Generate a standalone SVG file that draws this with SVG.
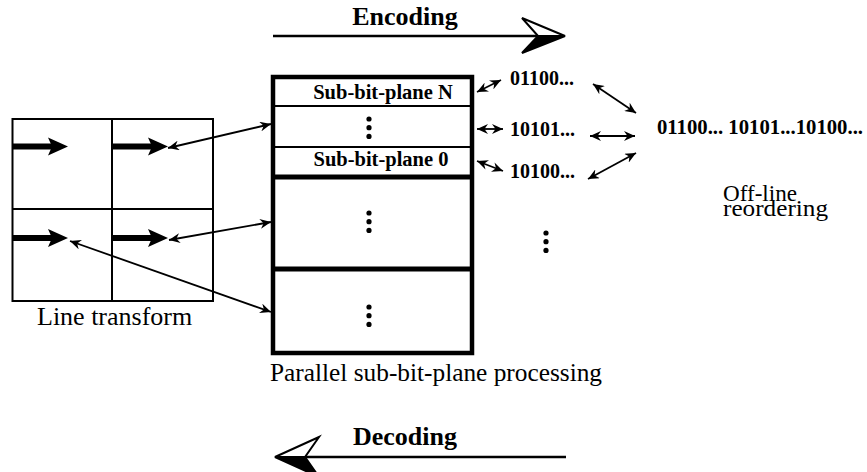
<svg xmlns="http://www.w3.org/2000/svg" xmlns:xlink="http://www.w3.org/1999/xlink" width="867" height="472" viewBox="0 0 867 472">
<style>
.bold{font-family:"Liberation Serif","Times New Roman",serif;font-weight:bold;fill:#000}
.reg{font-family:"Liberation Serif","Times New Roman",serif;font-weight:normal;fill:#000}
.thin{stroke:#000;stroke-width:1.8;fill:none;marker-start:url(#ah);marker-end:url(#ah)}
.grid{stroke:#000;stroke-width:2;fill:#fff}
</style>
<defs>
<marker id="ah" markerUnits="userSpaceOnUse" markerWidth="12" markerHeight="10" refX="11" refY="5" orient="auto-start-reverse" viewBox="0 0 12 10">
<path d="M0,0 L11,5 L0,10 L3.5,5 z" fill="#000"/>
</marker>
<g id="ta">
<rect x="0" y="-3" width="40" height="6" fill="#000"/>
<path d="M36,-9 L56,0 L36,9 L40,0 z" fill="#000"/>
</g>
<symbol id="dots" overflow="visible">
<circle cx="0" cy="0" r="2.6" fill="#000"/>
<circle cx="0" cy="8.7" r="2.6" fill="#000"/>
<circle cx="0" cy="17.4" r="2.6" fill="#000"/>
</symbol>
</defs>
<rect width="867" height="472" fill="#fff"/>

<g id="encoding">
<text class="bold" x="405" y="25" font-size="26" text-anchor="middle">Encoding</text>
<line x1="273" y1="36" x2="540" y2="36" stroke="#000" stroke-width="2.5"/>
<path d="M565,36 L522,18 L538,36 z" fill="#fff" stroke="#000" stroke-width="2" stroke-linejoin="miter"/>
<path d="M565,36 L538,36 L522,53 z" fill="#000" stroke="#000" stroke-width="2"/>
</g>

<g id="decoding">
<text class="bold" x="405" y="445" font-size="26" text-anchor="middle">Decoding</text>
<line x1="302" y1="457" x2="566" y2="457" stroke="#000" stroke-width="2.5"/>
<path d="M275,457 L319,437 L305,457 z" fill="#fff" stroke="#000" stroke-width="2"/>
<path d="M275,457 L305,457 L319,477 z" fill="#000" stroke="#000" stroke-width="2"/>
</g>

<g id="line-transform">
<rect class="grid" x="12.5" y="119" width="200.5" height="182"/>
<line class="grid" x1="112" y1="119" x2="112" y2="301"/>
<line class="grid" x1="12.5" y1="209" x2="213" y2="209"/>
<use xlink:href="#ta" x="12" y="146.5"/>
<use xlink:href="#ta" x="112" y="146.5"/>
<use xlink:href="#ta" x="12" y="238"/>
<use xlink:href="#ta" x="112" y="238"/>
<text class="reg" x="37" y="325" font-size="26">Line transform</text>
</g>

<g id="bitplane-box">
<rect x="273" y="77" width="199" height="276" fill="#fff" stroke="#000" stroke-width="4.5"/>
<line x1="273" y1="106" x2="472" y2="106" stroke="#000" stroke-width="2"/>
<line x1="273" y1="147" x2="472" y2="147" stroke="#000" stroke-width="2"/>
<line x1="273" y1="177" x2="472" y2="177" stroke="#000" stroke-width="5"/>
<line x1="273" y1="269" x2="472" y2="269" stroke="#000" stroke-width="5"/>
<text class="bold" x="383" y="99" font-size="20.5" text-anchor="middle">Sub-bit-plane N</text>
<text class="bold" x="381" y="166" font-size="20.5" text-anchor="middle">Sub-bit-plane 0</text>
<use xlink:href="#dots" x="369" y="119"/>
<use xlink:href="#dots" x="369" y="213"/>
<use xlink:href="#dots" x="369" y="307"/>
<text class="reg" x="270" y="381" font-size="26" textLength="332" lengthAdjust="spacingAndGlyphs">Parallel sub-bit-plane processing</text>
</g>

<g id="streams">
<text class="bold" x="510" y="85" font-size="20">01100...</text>
<text class="bold" x="510" y="136" font-size="20">10101...</text>
<text class="bold" x="510" y="178" font-size="20">10100...</text>
<use xlink:href="#dots" x="546" y="233"/>
</g>

<g id="reordered">
<text class="bold" x="657" y="134" font-size="20" textLength="206" lengthAdjust="spacingAndGlyphs">01100... 10101...10100...</text>
<text class="reg" x="723" y="201" font-size="23" textLength="74" lengthAdjust="spacingAndGlyphs">Off-line</text>
<text class="reg" x="723" y="216" font-size="23" textLength="105" lengthAdjust="spacingAndGlyphs">reordering</text>
</g>

<g id="connectors">
<line class="thin" x1="168" y1="148" x2="271" y2="124"/>
<line class="thin" x1="169" y1="240" x2="271" y2="222"/>
<line class="thin" x1="70" y1="241" x2="271" y2="312"/>
<line class="thin" x1="477" y1="92" x2="501" y2="80"/>
<line class="thin" x1="477" y1="129" x2="503" y2="129"/>
<line class="thin" x1="477" y1="161" x2="503" y2="171"/>
<line class="thin" x1="593" y1="84" x2="636" y2="113"/>
<line class="thin" x1="590" y1="136" x2="635" y2="136"/>
<line class="thin" x1="588" y1="179" x2="636" y2="153"/>
</g>
</svg>
